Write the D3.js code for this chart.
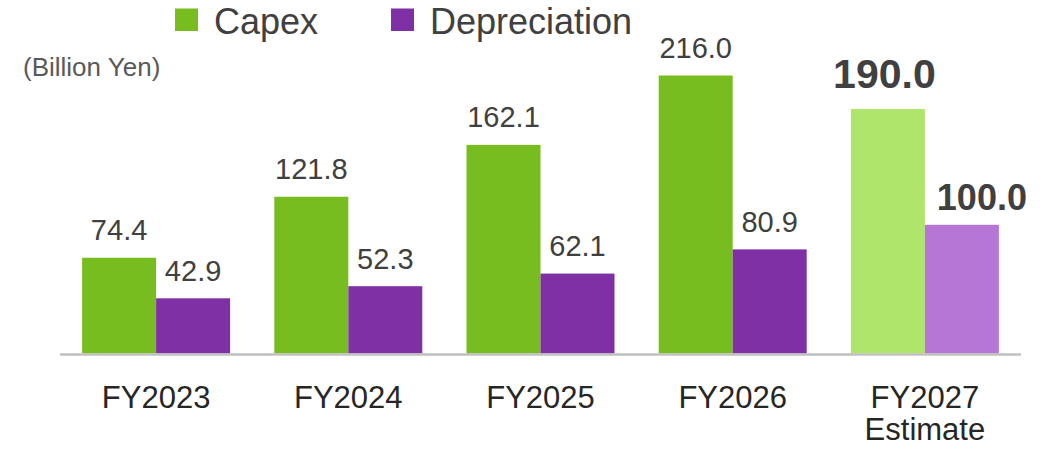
<!DOCTYPE html>
<html>
<head>
<meta charset="utf-8">
<script src="https://cdn.jsdelivr.net/npm/d3@7"></script>
<style>
  html, body { margin: 0; padding: 0; background: #fff; }
  svg { display: block; font-family: "Liberation Sans", Arial, "Noto Sans CJK JP", sans-serif; }
</style>
</head>
<body>
<svg id="chart" width="1056" height="451"></svg>
<script>
'use strict';

var categories = ['FY2023', 'FY2024', 'FY2025', 'FY2026', 'FY2027'];
var categorySub = ['', '', '', '', 'Estimate'];
var capex = [74.4, 121.8, 162.1, 216.0, 190.0];
var depreciation = [42.9, 52.3, 62.1, 80.9, 100.0];
var isEstimate = [false, false, false, false, true];
var seriesNames = ['Capex', 'Depreciation'];

var colors = {
    Capex: { actual: '#78bd20', estimate: '#b0e56b' },
    Depreciation: { actual: '#7f30a4', estimate: '#b676d6' }
};

var svg = d3.select('#chart');

var x0 = d3.scaleBand()
    .domain(categories)
    .range([60, 1021])
    .paddingInner(0.23)
    .paddingOuter(0.115);

var x1 = d3.scaleBand()
    .domain(seriesNames)
    .range([0, x0.bandwidth()]);

var y = d3.scaleLinear()
    .domain([0, 216])
    .range([353.5, 353.5 - 216 * 1.287]);

var rows = categories.map(function(c, i) {
    return {
        cat: c,
        est: isEstimate[i],
        values: [
            { key: 'Capex', v: capex[i] },
            { key: 'Depreciation', v: depreciation[i] }
        ]
    };
});

// bars
var groups = svg.append('g').attr('class', 'bars')
    .selectAll('g')
    .data(rows)
    .enter().append('g')
    .attr('transform', function(d) { return 'translate(' + x0(d.cat) + ',0)'; });

groups.selectAll('rect')
    .data(function(d) { return d.values.map(function(s) { return { key: s.key, v: s.v, est: d.est }; }); })
    .enter().append('rect')
    .attr('x', function(d) { return x1(d.key); })
    .attr('width', x1.bandwidth())
    .attr('y', function(d) { return y(d.v); })
    .attr('height', function(d) { return y(0) - y(d.v); })
    .attr('fill', function(d) { return d.est ? colors[d.key].estimate : colors[d.key].actual; });

// value labels (estimate year is bigger and bold)
groups.selectAll('text')
    .data(function(d) { return d.values.map(function(s) { return { key: s.key, v: s.v, est: d.est }; }); })
    .enter().append('text')
    .attr('text-anchor', 'middle')
    .attr('x', function(d) {
        var cx = x1(d.key) + x1.bandwidth() / 2;
        if(d.est) cx += d.key === 'Capex' ? -3.5 : 20;
        return cx;
    })
    .attr('y', function(d) {
        if(d.est) return y(d.v) - (d.key === 'Capex' ? 20.7 : 14.7);
        return y(d.v) - 17.6;
    })
    .attr('fill', '#404040')
    .attr('font-size', function(d) {
        if(d.est) return d.key === 'Capex' ? '41px' : '36px';
        return '29px';
    })
    .attr('font-weight', function(d) { return d.est ? 'bold' : 'normal'; })
    .text(function(d) { return d.v.toFixed(1); });

// axis line
svg.append('line')
    .attr('x1', 60).attr('x2', 1021)
    .attr('y1', 354.5).attr('y2', 354.5)
    .attr('stroke', '#c0c0c0')
    .attr('stroke-width', 2.5);

// category labels
var catLabels = svg.append('g').attr('class', 'xlabels')
    .selectAll('text')
    .data(categories)
    .enter().append('text')
    .attr('text-anchor', 'middle')
    .attr('x', function(d) { return x0(d) + x0.bandwidth() / 2; })
    .attr('y', 408)
    .attr('fill', '#262626')
    .attr('font-size', '31px');

catLabels.append('tspan').text(function(d) { return d; });
catLabels.filter(function(d, i) { return categorySub[i]; })
    .append('tspan')
    .attr('x', function(d) { return x0(d) + x0.bandwidth() / 2; })
    .attr('dy', 31.5)
    .text(function(d) { return categorySub[categories.indexOf(d)]; });

// legend
var legendItems = [
    { name: 'Capex', x: 175 },
    { name: 'Depreciation', x: 391 }
];
var legend = svg.append('g').attr('class', 'legend')
    .selectAll('g')
    .data(legendItems)
    .enter().append('g');

legend.append('rect')
    .attr('x', function(d) { return d.x; })
    .attr('y', 8.5)
    .attr('width', 23)
    .attr('height', 22.5)
    .attr('fill', function(d) { return colors[d.name].actual; });

legend.append('text')
    .attr('x', function(d) { return d.x + 39; })
    .attr('y', 34)
    .attr('fill', '#404040')
    .attr('font-size', '36px')
    .text(function(d) { return d.name; });

// unit label
svg.append('text')
    .attr('x', 23)
    .attr('y', 76)
    .attr('fill', '#595959')
    .attr('font-size', '26px')
    .text('(Billion Yen)');
</script>
</body>
</html>
